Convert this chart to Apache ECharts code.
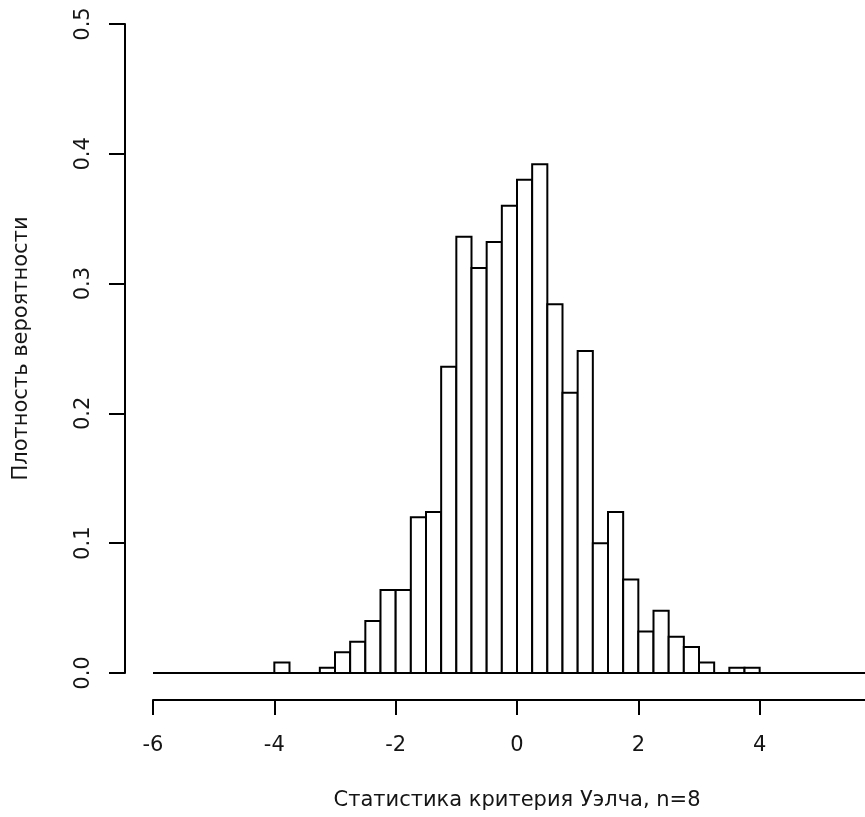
<!DOCTYPE html>
<html>
<head>
<meta charset="utf-8">
<script src="https://cdn.jsdelivr.net/npm/echarts@6/dist/echarts.min.js"></script>
<style>
html,body{margin:0;padding:0;background:#fff;}
#chart{width:865px;height:817px;}
</style>
</head>
<body>
<div id="chart"></div>
<script>
// Histogram bin edges (Welch test statistic)
var breaks = [-4, -3.75, -3.5, -3.25, -3, -2.75, -2.5, -2.25, -2, -1.75, -1.5, -1.25, -1, -0.75, -0.5, -0.25,
              0, 0.25, 0.5, 0.75, 1, 1.25, 1.5, 1.75, 2, 2.25, 2.5, 2.75, 3, 3.25, 3.5, 3.75, 4];
// Probability density of each bin
var densities = [0.008, 0, 0, 0.004, 0.016, 0.024, 0.040, 0.064,
                 0.064, 0.120, 0.124, 0.236, 0.336, 0.312, 0.332, 0.360,
                 0.380, 0.392, 0.284, 0.216, 0.248, 0.100, 0.124, 0.072,
                 0.032, 0.048, 0.028, 0.020, 0.008, 0, 0.004, 0.004];
var xTicks = [-6, -4, -2, 0, 2, 4, 6];
var yTicks = [0.0, 0.1, 0.2, 0.3, 0.4, 0.5];
var baseline = [[-6, 0], [6, 0]];
var xTitle = 'Статистика критерия Уэлча, n=8';
var yTitle = 'Плотность вероятности';

var binData = [];
for (var i = 0; i < densities.length; i++) {
  binData.push([breaks[i], breaks[i + 1], densities[i]]);
}

var FONT = 'DejaVu Sans, Liberation Sans, Arial, sans-serif';
var FS = 21;
var TXT = '#151515';
var chart = echarts.init(document.getElementById('chart'), null, {renderer: 'canvas'});
chart.setOption({
  backgroundColor: '#ffffff',
  animation: false,
  grid: {left: 153, top: 24, width: 728, height: 649, containLabel: false, outerBoundsMode: 'none'},
  xAxis: {
    type: 'value', min: xTicks[0], max: xTicks[xTicks.length - 1], interval: 2, position: 'bottom', offset: 27,
    name: xTitle, nameLocation: 'middle', nameGap: 90,
    nameTextStyle: {fontFamily: FONT, fontSize: FS, color: TXT},
    axisLine: {show: true, onZero: false, lineStyle: {color: '#000', width: 2}},
    axisTick: {show: true, inside: false, length: 15, lineStyle: {color: '#000', width: 2}},
    axisLabel: {show: true, margin: 35, fontFamily: FONT, fontSize: FS, color: TXT,
                showMinLabel: true, showMaxLabel: true},
    splitLine: {show: false}
  },
  yAxis: {
    type: 'value', min: yTicks[0], max: yTicks[yTicks.length - 1], interval: 0.1, position: 'left', offset: 28,
    name: yTitle, nameLocation: 'middle', nameGap: 93, nameRotate: 90,
    nameTextStyle: {fontFamily: FONT, fontSize: FS, color: TXT},
    axisLine: {show: true, onZero: false, lineStyle: {color: '#000', width: 2}},
    axisTick: {show: true, inside: false, length: 16, lineStyle: {color: '#000', width: 2}},
    axisLabel: {show: true, margin: 31, rotate: 90, fontFamily: FONT, fontSize: FS, color: TXT,
                formatter: function (v) { return v.toFixed(1); }},
    splitLine: {show: false}
  },
  series: [
    {
      type: 'line', data: baseline, symbol: 'none', silent: true, clip: false,
      lineStyle: {color: '#000', width: 2}
    },
    {
      type: 'custom',
      data: binData,
      encode: {x: [0, 1], y: 2},
      renderItem: function (params, api) {
        var x0 = api.value(0), x1 = api.value(1), d = api.value(2);
        if (d <= 0) return null;
        var p0 = api.coord([x0, d]);
        var p1 = api.coord([x1, 0]);
        return {
          type: 'rect',
          shape: {x: p0[0], y: p0[1], width: p1[0] - p0[0], height: p1[1] - p0[1]},
          style: {fill: '#ffffff', stroke: '#000000', lineWidth: 2}
        };
      }
    }
  ]
});
</script>
</body>
</html>
